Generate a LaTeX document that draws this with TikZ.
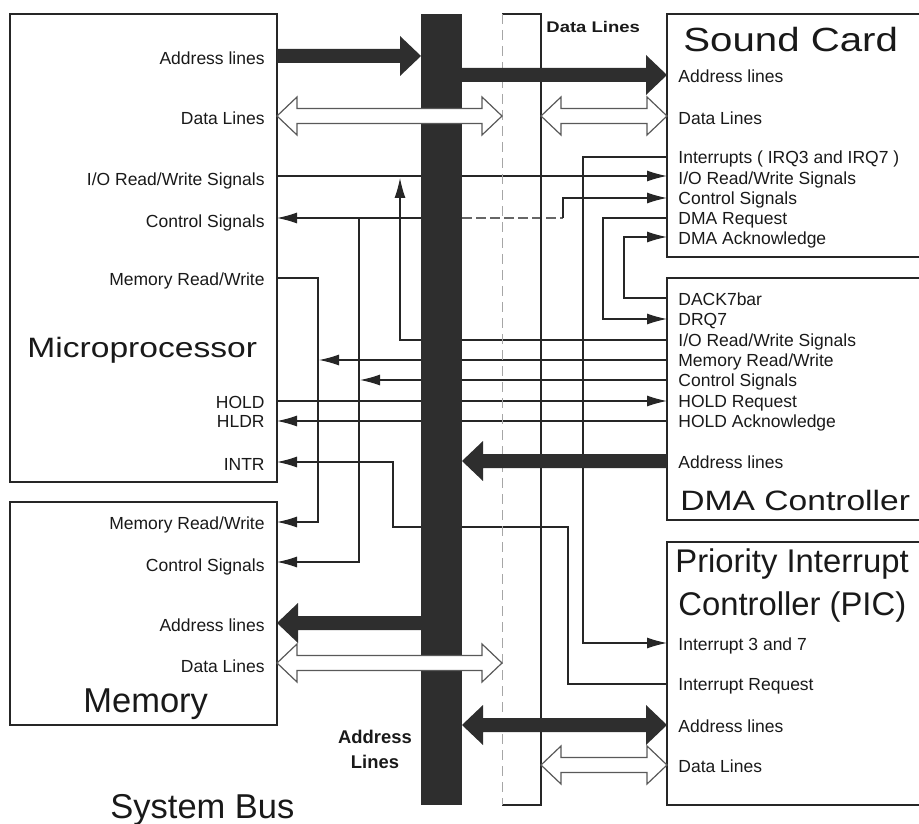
\documentclass[tikz,border=0pt]{standalone}
\usepackage{fontspec}
\setmainfont{Liberation Sans}
\usepackage{graphicx}
\usetikzlibrary{arrows.meta,calc}
\newcommand\wide[1]{\scalebox{1.2}[1]{#1}}
\newcommand\thickarrow[2]{%
  \fill[busfill] let \p1=(#1), \p2=(#2), \n1={sign(\x2-\x1)} in
    ({\x1},{\y1+3.5pt}) -- ({\x2-(\n1)*10.5pt},{\y1+3.5pt}) -- ({\x2-(\n1)*10.5pt},{\y1+10pt})
    -- ({\x2},{\y1}) -- ({\x2-(\n1)*10.5pt},{\y1-10pt}) -- ({\x2-(\n1)*10.5pt},{\y1-3.5pt})
    -- ({\x1},{\y1-3.5pt}) -- cycle;}
\newcommand\thickdbl[2]{%
  \fill[busfill] let \p1=(#1), \p2=(#2) in
    ({\x1},{\y1}) -- ({\x1+10.5pt},{\y1+10pt}) -- ({\x1+10.5pt},{\y1+3.5pt})
    -- ({\x2-10.5pt},{\y1+3.5pt}) -- ({\x2-10.5pt},{\y1+10pt}) -- ({\x2},{\y1})
    -- ({\x2-10.5pt},{\y1-10pt}) -- ({\x2-10.5pt},{\y1-3.5pt}) -- ({\x1+10.5pt},{\y1-3.5pt})
    -- ({\x1+10.5pt},{\y1-10pt}) -- cycle;}
\newcommand\hollowdbl[2]{%
  \filldraw[hollow] let \p1=(#1), \p2=(#2) in
    ({\x1},{\y1}) -- ({\x1+10pt},{\y1+9.5pt}) -- ({\x1+10pt},{\y1+3.75pt})
    -- ({\x2-10pt},{\y1+3.75pt}) -- ({\x2-10pt},{\y1+9.5pt}) -- ({\x2},{\y1})
    -- ({\x2-10pt},{\y1-9.5pt}) -- ({\x2-10pt},{\y1-3.75pt}) -- ({\x1+10pt},{\y1-3.75pt})
    -- ({\x1+10pt},{\y1-9.5pt}) -- cycle;}
\tikzset{
  box/.style={draw=black!85, line width=0.6pt, inner sep=0pt, outer sep=0pt, anchor=north west},
  lbl/.style={inner sep=0pt, text=black!90, font=\fontsize{8.75pt}{10pt}\selectfont},
  lblR/.style={lbl, anchor=base east},
  lblL/.style={lbl, anchor=base west},
  title/.style={inner sep=0pt, text=black!90, anchor=base west, font=\fontsize{17.25pt}{20pt}\selectfont},
  pictitle/.style={inner sep=0pt, text=black!90, anchor=base west, font=\fontsize{16.4pt}{20pt}\selectfont},
  wtitle/.style={inner sep=0pt, text=black!90, anchor=base west, font=\fontsize{14pt}{16pt}\selectfont},
  sig/.style={draw=black!85, line width=0.6pt},
  sigarr/.style={sig, -{Latex[length=10pt,width=5.5pt]}},
  busfill/.style={fill=black!82},
  hollow/.style={draw=black!65, fill=white, line width=0.6pt},
}
\begin{document}
\begin{tikzpicture}[x=0.5pt,y=-0.5pt]
\useasboundingbox (0,0) rectangle (919,823);
\clip (0,0) rectangle (919,823);
% ---- pin coordinates
\coordinate (mAddr) at (277,56);  \coordinate (mData) at (277,116);
\coordinate (mIO) at (277,176);   \coordinate (mCtl) at (277,218);
\coordinate (mMRW) at (277,278);  \coordinate (mHOLD) at (277,401);
\coordinate (mHLDR) at (277,421); \coordinate (mINTR) at (277,462);
\coordinate (memMRW) at (277,522); \coordinate (memCtl) at (277,562);
\coordinate (memAddr) at (277,623); \coordinate (memData) at (277,663);
\coordinate (sAddr) at (667,75);  \coordinate (sData) at (667,116);
\coordinate (sInt) at (667,157);  \coordinate (sIO) at (667,176);
\coordinate (sCtl) at (667,198);  \coordinate (sDRQ) at (667,218);
\coordinate (sDACK) at (667,237);
\coordinate (dDACK) at (667,298); \coordinate (dDRQ) at (667,319);
\coordinate (dIO) at (667,340);   \coordinate (dMRW) at (667,360);
\coordinate (dCtl) at (667,380);  \coordinate (dHOLD) at (667,401);
\coordinate (dHLDA) at (667,421); \coordinate (dAddr) at (667,461);
\coordinate (pI37) at (667,643);  \coordinate (pIRQ) at (667,684);
\coordinate (pAddr) at (667,725); \coordinate (pData) at (667,765);
% bus side points
\coordinate (bAddrL) at (421,56);  \coordinate (bSAddr) at (462,75);
\coordinate (bDAddr) at (462,461); \coordinate (bMemAddr) at (421,623);
\coordinate (bPAddr) at (462,725);
\coordinate (dbL1) at (502,116); \coordinate (dbR1) at (541,116);
\coordinate (dbL2) at (502,663); \coordinate (dbR2) at (541,765);
\coordinate (bCtlR) at (462,218);
% junctions
\coordinate (jIO) at (400,178);
\coordinate (jC2) at (563,218);
\coordinate (jC3) at (359,218);
\coordinate (jC4) at (360,380);
\coordinate (jM1) at (318,522);
\coordinate (jM2) at (319,360);
\coordinate (jI1) at (568,527);
\coordinate (jI2) at (393,527);
\coordinate (jK) at (583,643);
\coordinate (jR) at (603,319);
\coordinate (jA) at (624,237);
% ---- boxes
\node[box, minimum width=133.5pt, minimum height=234pt] (mp) at (10,14) {};
\node[box, minimum width=133.5pt, minimum height=111.5pt] (mem) at (10,502) {};
\node[box, minimum width=140pt, minimum height=121.5pt] (sc) at (667,14) {};
\node[box, minimum width=140pt, minimum height=121pt] (dma) at (667,278) {};
\node[box, minimum width=140pt, minimum height=131.5pt] (pic) at (667,542) {};
% ---- thin signal lines
\draw[sigarr] (mIO) -- (sIO);
\draw[sigarr] (dIO) -| (jIO);
\draw[sig, {Latex[length=10pt,width=5.5pt]}-] (mCtl) -- (bCtlR);
\draw[sig, draw=black!60, dash pattern=on 5pt off 2pt] (bCtlR) -- (jC2);
\draw[sigarr] (jC2) |- (sCtl);
\draw[sigarr] (jC3) |- (memCtl);
\draw[sigarr] (dCtl) -- (jC4);
\draw[sigarr] (mMRW) -| (jM1) -- (memMRW);
\draw[sigarr] (dMRW) -- (jM2);
\draw[sigarr] (mHOLD) -- (dHOLD);
\draw[sigarr] (dHLDA) -- (mHLDR);
\draw[sigarr] (pIRQ) -| (jI1) -- (jI2) |- (mINTR);
\draw[sigarr] (sInt) -| (jK) -- (pI37);
\draw[sigarr] (sDRQ) -| (jR) -- (dDRQ);
\draw[sigarr] (dDACK) -| (jA) -- (sDACK);
% ---- data bus
\node[minimum width=19.5pt, minimum height=395.5pt, inner sep=0pt, outer sep=0pt] (dbus) at (521.5,409.5) {};
\draw[sig] (dbus.north west) -- (dbus.north east) -- (dbus.south east) -- (dbus.south west);
\draw[draw=black!35, line width=0.5pt, dash pattern=on 5pt off 3pt] (dbus.north west) -- (dbus.south west);
% ---- address bus
\node[busfill, minimum width=20.5pt, minimum height=395.5pt, inner sep=0pt, outer sep=0pt] (abus) at (441.5,409.5) {};
% ---- thick address arrows
\thickarrow{mAddr}{bAddrL}
\thickarrow{bSAddr}{sAddr}
\thickarrow{dAddr}{bDAddr}
\thickarrow{bMemAddr}{memAddr}
\thickdbl{bPAddr}{pAddr}
% ---- hollow data arrows
\hollowdbl{mData}{dbL1}
\hollowdbl{dbR1}{sData}
\hollowdbl{memData}{dbL2}
\hollowdbl{dbR2}{pData}
% ---- labels: microprocessor
\node[lblR] (t1) at (265,64.5) {Address lines};
\node[lblR] (t2) at (265,124.5) {Data Lines};
\node[lblR] (t3) at (265,185.5) {I/O Read/Write Signals};
\node[lblR] (t4) at (265,227.5) {Control Signals};
\node[lblR] (t5) at (265,285.5) {Memory Read/Write};
\node[lblR] (t6) at (265,408.5) {HOLD};
\node[lblR] (t7) at (265,427.5) {HLDR};
\node[lblR] (t8) at (265,470.5) {INTR};
\node[wtitle] (tmp) at (27,357) {\wide{Microprocessor}};
% memory
\node[lblR] (u1) at (265,529.5) {Memory Read/Write};
\node[lblR] (u2) at (265,571.5) {Control Signals};
\node[lblR] (u3) at (265,631.5) {Address lines};
\node[lblR] (u4) at (265,672.5) {Data Lines};
\node[title] (tmem) at (83,712) {Memory};
% sound card
\node[inner sep=0pt, text=black!90, anchor=base west, font=\fontsize{16.75pt}{20pt}\selectfont] (tsc) at (683,52) {\wide{Sound Card}};
\node[lblL] (s1) at (678,82.5) {Address lines};
\node[lblL] (s2) at (678,124.5) {Data Lines};
\node[lblL] (s3) at (678,164) {Interrupts ( IRQ3 and IRQ7 )};
\node[lblL] (s4) at (678,184.5) {I/O Read/Write Signals};
\node[lblL] (s5) at (678,204.5) {Control Signals};
\node[lblL] (s6) at (678,225) {DMA Request};
\node[lblL] (s7) at (678,245) {DMA Acknowledge};
% DMA controller
\node[lblL] (d1) at (678,305.5) {DACK7bar};
\node[lblL] (d2) at (678,325.5) {DRQ7};
\node[lblL] (d3) at (678,346) {I/O Read/Write Signals};
\node[lblL] (d4) at (678,366) {Memory Read/Write};
\node[lblL] (d5) at (678,386) {Control Signals};
\node[lblL] (d6) at (678,407) {HOLD Request};
\node[lblL] (d7) at (678,427) {HOLD Acknowledge};
\node[lblL] (d8) at (678,468) {Address lines};
\node[wtitle] (tdma) at (680,510) {\wide{DMA Controller}};
% PIC
\node[pictitle] (tp1) at (675,572) {Priority Interrupt};
\node[pictitle] (tp2) at (678,615) {Controller (PIC)};
\node[lblL] (p1) at (678,650.5) {Interrupt 3 and 7};
\node[lblL] (p2) at (678,690.5) {Interrupt Request};
\node[lblL] (p3) at (678,732) {Address lines};
\node[lblL] (p4) at (678,772) {Data Lines};
% bus labels
\node[inner sep=0pt, text=black!90, anchor=base west, font=\fontsize{7.7pt}{9pt}\selectfont\bfseries] (tdl) at (546,33) {\wide{Data Lines}};
\node[inner sep=0pt, text=black!90, anchor=base, font=\fontsize{9.2pt}{11pt}\selectfont\bfseries] (tal1) at (375,743) {Address};
\node[inner sep=0pt, text=black!90, anchor=base, font=\fontsize{9.2pt}{11pt}\selectfont\bfseries] (tal2) at (375,768) {Lines};
\node[title] (tsb) at (110,818) {System Bus};
\end{tikzpicture}
\end{document}
